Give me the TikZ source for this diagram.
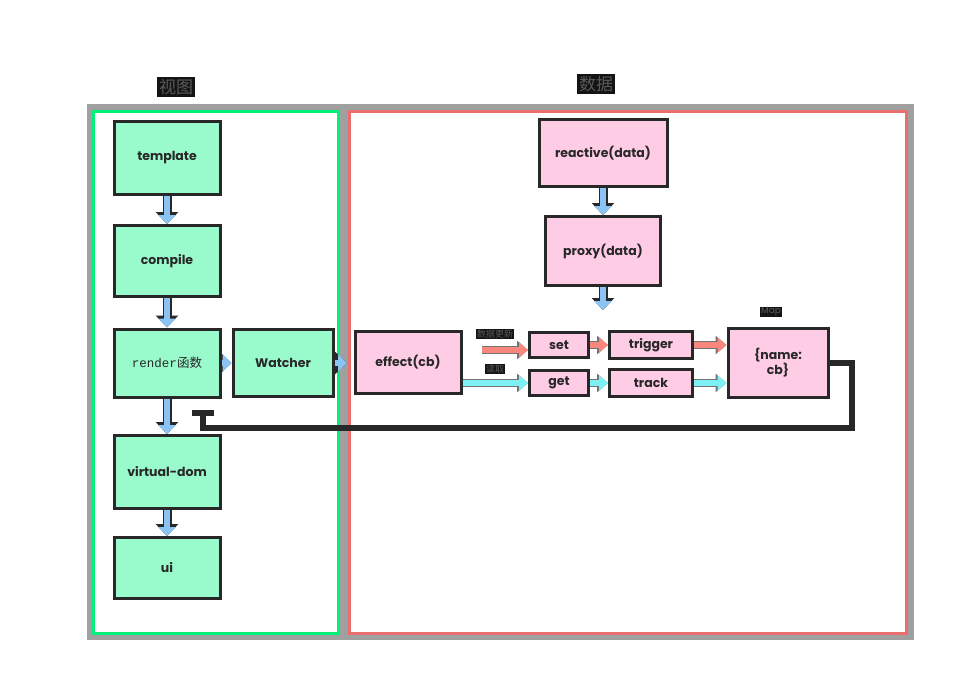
\documentclass[tikz,border=0pt]{standalone}
\usepackage{fontspec}
\setmainfont{Poppins}
\newfontfamily\cjk{Noto Sans CJK SC}
\newfontfamily\monofont{Liberation Mono}
\usetikzlibrary{arrows.meta,positioning}
\definecolor{viewgreen}{RGB}{153,250,204}
\definecolor{datapink}{RGB}{255,204,230}
\definecolor{flowblue}{RGB}{140,195,245}
\definecolor{setred}{RGB}{250,135,125}
\definecolor{getcyan}{RGB}{125,240,245}
\definecolor{framegreen}{RGB}{0,240,120}
\definecolor{framered}{RGB}{235,110,110}
\definecolor{framegray}{RGB}{160,160,160}
\definecolor{inkdark}{RGB}{40,40,40}
\tikzset{
  % 基础盒子
  box/.style={
    draw=inkdark,
    line width=3pt,
    minimum width=106pt,
    minimum height=70pt,
    inner sep=2pt,
    text=inkdark,
    font=\fontsize{12.5}{15}\selectfont\bfseries
  },
  % 视图侧
  view/.style={box, fill=viewgreen},
  % 数据侧
  data/.style={box, fill=datapink},
  % 小盒子
  op/.style={data, minimum width=59pt, minimum height=25pt},
  % 标题
  tag/.style={fill=black!92, text=black!65, inner sep=2pt, font=\cjk\fontsize{17}{19}\selectfont},
  note/.style={fill=black!92, text=black!65, inner sep=1pt, font=\cjk\fontsize{9}{10}\selectfont},
}

\begin{document}
\begin{tikzpicture}[
    x=1pt, y=-1pt,
    flow/.style={-{Triangle[length=9pt,width=17pt]}, line width=6pt, flowblue,
      preaction={draw=inkdark, line width=9pt, -{Triangle[length=12pt,width=22pt]}}},
    setflow/.style={-{Triangle[length=9pt,width=15pt]}, line width=6pt, setred,
      preaction={draw=black!55, line width=8pt, -{Triangle[length=11pt,width=18pt]}}},
    getflow/.style={setflow, getcyan},
    back/.style={-{Bar[width=22pt,line width=6pt]}, line width=6pt, inkdark}
  ]
    \useasboundingbox (0,0) rectangle (967,694);

    % 两个区域
    \draw[framegray, line width=7pt] (90,107) rectangle (341,636);
    \draw[framegreen, line width=3pt] (93,111) rectangle (338,633);
    \draw[framegray, line width=7pt] (345,107) rectangle (910,636);
    \draw[framered, line width=3pt] (349,111) rectangle (906,633);

    \node[tag] (viewtitle) at (176,87) {视图};
    \node[tag] (datatitle) at (596,84) {数据};

    % 视图
    \node[view, minimum height=73pt] (template) at (167,158) {template};
    \node[view, minimum height=71pt] (compile) at (167,261) {compile};
    \node[view, minimum height=68pt] (render) at (167,363) {{\monofont\mdseries\fontsize{12.5}{15}\selectfont render}{\cjk\mdseries 函数}};
    \node[view, minimum width=100pt, minimum height=67pt] (watcher) at (283,363) {Watcher};
    \node[view, minimum height=73pt] (vdom) at (167,472) {virtual-dom};
    \node[view, minimum height=61pt] (ui) at (167,568) {ui};

    \draw[flow] (template) -- (compile);
    \draw[flow] (compile) -- (render);
    \draw[flow] (render) -- (vdom);
    \draw[flow] (vdom) -- (ui);
    \draw[flow] (render) -- (watcher);
    \draw[flow, dashed] (watcher) -- (347,363);

    % 数据
    \node[data, minimum width=128pt, minimum height=67pt] (reactive) at (603,153) {reactive(data)};
    \node[data, minimum width=115pt, minimum height=69pt] (proxy) at (603,251) {proxy(data)};
    \node[data, minimum height=62pt] (effect) at (408,362) {effect(cb)};
    \node[op] (set) at (559,345) {set};
    \node[op] (get) at (559,383) {get};
    \node[op, minimum width=83pt, minimum height=27pt] (trigger) at (651,345) {trigger};
    \node[op, minimum width=83pt, minimum height=27pt] (track) at (651,383) {track};
    \node[data, minimum width=100pt, minimum height=69pt, align=center] (deps) at (778,363) {\{name:\\cb\}};

    \node[note] (updatenote) at (495,334) {数据更新};
    \node[note] (readnote) at (495,369) {读取};
    \node[note, font=\fontsize{9}{10}\selectfont] (mapnote) at (771,312) {Map};

    \coordinate (proxyout) at (603,310);
    \coordinate (updatein) at (482,350);
    \coordinate (loopcorner) at (852,428);
    \coordinate (loopend) at (203,410);

    \draw[flow] (reactive) -- (proxy);
    \draw[flow] (proxy) -- (proxyout);
    \draw[setflow] (updatein) -- (updatein -| set.west);
    \draw[setflow] (set) -- (trigger);
    \draw[setflow] (trigger.east) -- (trigger.east -| deps.west);
    \draw[getflow] (effect.east |- get) -- (get);
    \draw[getflow] (get) -- (track);
    \draw[getflow] (track.east) -- (track.east -| deps.west);

    % 回到 render
    \draw[back] (deps.east) -| (loopcorner) -| (loopend);
\end{tikzpicture}
\end{document}
